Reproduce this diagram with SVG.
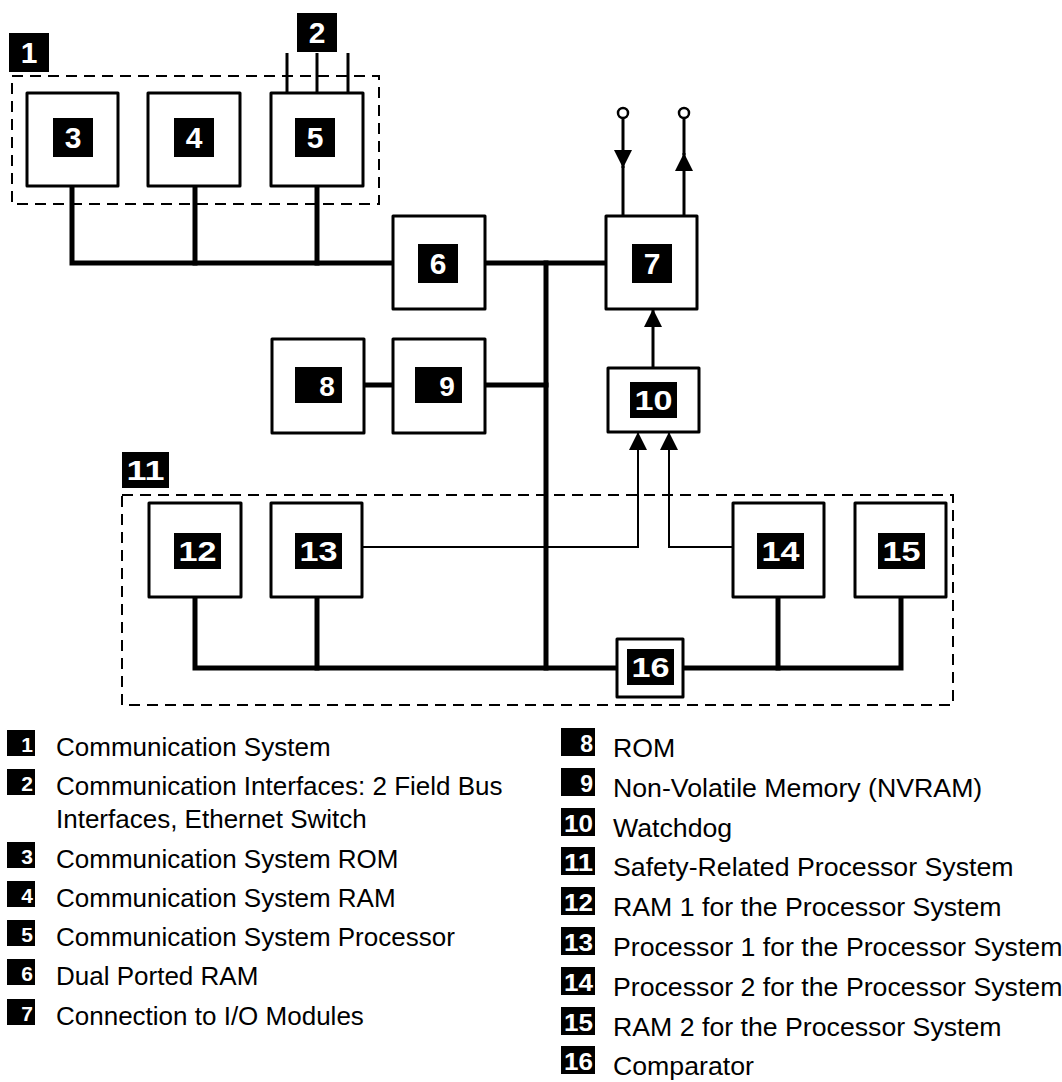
<svg xmlns="http://www.w3.org/2000/svg" width="1062" height="1082" viewBox="0 0 1062 1082">
<style>
.box{fill:#fff;stroke:#000;stroke-width:3;stroke-linejoin:round}
.grp{fill:none;stroke:#000;stroke-width:2;stroke-dasharray:11 7}
.lbl{fill:#000}
.num{fill:#fff;font-family:"Liberation Sans",Arial,sans-serif;font-weight:bold;text-anchor:middle}
.n1{font-size:30px}
.n2{font-size:27px}
.bus{fill:none;stroke:#000;stroke-width:5;stroke-linecap:square}
.thin{fill:none;stroke:#000;stroke-width:3}
.sig{fill:none;stroke:#000;stroke-width:2}
.leg{font-family:"Liberation Sans",Arial,sans-serif;font-size:26px;fill:#000}
.legr{font-family:"Liberation Sans",Arial,sans-serif;font-size:26.7px;fill:#000}
.lnum{fill:#fff;font-family:"Liberation Sans",Arial,sans-serif;font-weight:bold;text-anchor:end}
</style>
<defs>
<marker id="arr" viewBox="0 0 18 18" refX="18" refY="9" markerWidth="18" markerHeight="18" markerUnits="userSpaceOnUse" orient="auto">
<path d="M0,0 L18,9 L0,18 z" fill="#000"/>
</marker>
</defs>
<rect width="1062" height="1082" fill="#fff"/>

<g id="group1">
<rect class="grp" x="12" y="76" width="367" height="128"/>
<rect class="lbl" x="9" y="33" width="40" height="39"/>
<text class="num n1" x="29" y="63">1</text>
</g>
<g id="group11">
<rect class="grp" x="122" y="495" width="831" height="210"/>
<rect class="lbl" x="122" y="452" width="47" height="36"/>
<text class="num n2" x="145.5" y="480" textLength="38" lengthAdjust="spacingAndGlyphs">11</text>
</g>

<g id="connectors">
<path class="bus" d="M72,186 V263 H393"/>
<path class="bus" d="M195,186 V263"/>
<path class="bus" d="M317,186 V263"/>
<path class="bus" d="M485,263 H606"/>
<path class="bus" d="M546,263 V668"/>
<path class="bus" d="M485,385 H546"/>
<path class="bus" d="M364,385 H393"/>
<path class="bus" d="M195,597 V668 H617"/>
<path class="bus" d="M317,597 V668"/>
<path class="bus" d="M683,668 H901 V597"/>
<path class="bus" d="M778,597 V668"/>
<path class="thin" d="M287,53 V93"/>
<path class="thin" d="M317,53 V93"/>
<path class="thin" d="M348,53 V93"/>
<path class="thin" d="M623,118 V168" marker-end="url(#arr)"/>
<path class="thin" d="M623,166 V216"/>
<path class="thin" d="M684,216 V153" marker-end="url(#arr)"/>
<path class="thin" d="M684,155 V118"/>
<circle cx="623" cy="113" r="5" fill="#fff" stroke="#000" stroke-width="2.5"/>
<circle cx="684" cy="113" r="5" fill="#fff" stroke="#000" stroke-width="2.5"/>
<path class="thin" d="M653,368 V309" marker-end="url(#arr)"/>
<path class="sig" d="M362,547 H638 V432" marker-end="url(#arr)"/>
<path class="sig" d="M733,547 H669 V432" marker-end="url(#arr)"/>
</g>

<g id="label2">
<rect class="lbl" x="297" y="13" width="40" height="39"/>
<text class="num n1" x="317" y="43">2</text>
</g>
<g id="node3">
<rect class="box" x="27" y="93" width="91" height="93"/>
<rect class="lbl" x="53" y="118" width="40" height="39"/>
<text class="num n1" x="73" y="148">3</text>
</g>
<g id="node4">
<rect class="box" x="148" y="93" width="92" height="93"/>
<rect class="lbl" x="174" y="118" width="40" height="39"/>
<text class="num n1" x="194" y="148">4</text>
</g>
<g id="node5">
<rect class="box" x="271" y="93" width="92" height="93"/>
<rect class="lbl" x="295" y="118" width="40" height="39"/>
<text class="num n1" x="315" y="148">5</text>
</g>
<g id="node6">
<rect class="box" x="393" y="216" width="92" height="93"/>
<rect class="lbl" x="418" y="244" width="40" height="39"/>
<text class="num n1" x="438" y="274">6</text>
</g>
<g id="node7">
<rect class="box" x="606" y="216" width="91" height="93"/>
<rect class="lbl" x="632" y="244" width="40" height="39"/>
<text class="num n1" x="652" y="274">7</text>
</g>
<g id="node8">
<rect class="box" x="272" y="339" width="92" height="94"/>
<rect class="lbl" x="295" y="367" width="47" height="36"/>
<text class="num n1" x="327" y="396" style="font-size:28px">8</text>
</g>
<g id="node9">
<rect class="box" x="393" y="339" width="92" height="94"/>
<rect class="lbl" x="415" y="367" width="47" height="36"/>
<text class="num n1" x="447" y="396" style="font-size:28px">9</text>
</g>
<g id="node10">
<rect class="box" x="608" y="368" width="91" height="64"/>
<rect class="lbl" x="630" y="382" width="47" height="36"/>
<text class="num n2" x="653.5" y="410" textLength="38" lengthAdjust="spacingAndGlyphs">10</text>
</g>
<g id="node12">
<rect class="box" x="149" y="503" width="92" height="94"/>
<rect class="lbl" x="174" y="533" width="47" height="36"/>
<text class="num n2" x="197.5" y="561" textLength="38" lengthAdjust="spacingAndGlyphs">12</text>
</g>
<g id="node13">
<rect class="box" x="271" y="503" width="91" height="94"/>
<rect class="lbl" x="295" y="533" width="47" height="36"/>
<text class="num n2" x="318.5" y="561" textLength="38" lengthAdjust="spacingAndGlyphs">13</text>
</g>
<g id="node14">
<rect class="box" x="733" y="503" width="91" height="94"/>
<rect class="lbl" x="757" y="533" width="47" height="36"/>
<text class="num n2" x="780.5" y="561" textLength="38" lengthAdjust="spacingAndGlyphs">14</text>
</g>
<g id="node15">
<rect class="box" x="855" y="503" width="91" height="94"/>
<rect class="lbl" x="878" y="533" width="47" height="36"/>
<text class="num n2" x="901.5" y="561" textLength="38" lengthAdjust="spacingAndGlyphs">15</text>
</g>
<g id="node16">
<rect class="box" x="617" y="639" width="66" height="58"/>
<rect class="lbl" x="627" y="649" width="47" height="36"/>
<text class="num n2" x="650.5" y="677" textLength="38" lengthAdjust="spacingAndGlyphs">16</text>
</g>

<g id="legend">
<g style="font-size:21px">
<rect x="7" y="730" width="28" height="26"/><text class="lnum" x="33" y="752">1</text>
<rect x="7" y="769" width="28" height="26"/><text class="lnum" x="33" y="791">2</text>
<rect x="7" y="842" width="28" height="26"/><text class="lnum" x="33" y="864">3</text>
<rect x="7" y="881" width="28" height="26"/><text class="lnum" x="33" y="903">4</text>
<rect x="7" y="920" width="28" height="26"/><text class="lnum" x="33" y="942">5</text>
<rect x="7" y="959" width="28" height="26"/><text class="lnum" x="33" y="981">6</text>
<rect x="7" y="999" width="28" height="26"/><text class="lnum" x="33" y="1021">7</text>
</g>
<text class="leg" x="56" y="756">Communication System</text>
<text class="leg" x="56" y="795">Communication Interfaces: 2 Field Bus</text>
<text class="leg" x="56" y="828">Interfaces, Ethernet Switch</text>
<text class="leg" x="56" y="868">Communication System ROM</text>
<text class="leg" x="56" y="907">Communication System RAM</text>
<text class="leg" x="56" y="946">Communication System Processor</text>
<text class="leg" x="56" y="985">Dual Ported RAM</text>
<text class="leg" x="56" y="1025">Connection to I/O Modules</text>
<g style="font-size:23px">
<rect x="561" y="728" width="34" height="28"/><text class="lnum" x="593" y="752">8</text>
<rect x="561" y="768" width="34" height="28"/><text class="lnum" x="593" y="792">9</text>
<rect x="561" y="808" width="34" height="28"/><text class="lnum" x="593" y="832" textLength="29" lengthAdjust="spacingAndGlyphs">10</text>
<rect x="561" y="847" width="34" height="28"/><text class="lnum" x="593" y="871" textLength="29" lengthAdjust="spacingAndGlyphs">11</text>
<rect x="561" y="887" width="34" height="28"/><text class="lnum" x="593" y="911" textLength="29" lengthAdjust="spacingAndGlyphs">12</text>
<rect x="561" y="927" width="34" height="28"/><text class="lnum" x="593" y="951" textLength="29" lengthAdjust="spacingAndGlyphs">13</text>
<rect x="561" y="967" width="34" height="28"/><text class="lnum" x="593" y="991" textLength="29" lengthAdjust="spacingAndGlyphs">14</text>
<rect x="561" y="1007" width="34" height="28"/><text class="lnum" x="593" y="1031" textLength="29" lengthAdjust="spacingAndGlyphs">15</text>
<rect x="561" y="1046" width="34" height="28"/><text class="lnum" x="593" y="1070" textLength="29" lengthAdjust="spacingAndGlyphs">16</text>
</g>
<text class="legr" x="613" y="757">ROM</text>
<text class="legr" x="613" y="797">Non-Volatile Memory (NVRAM)</text>
<text class="legr" x="613" y="837">Watchdog</text>
<text class="legr" x="613" y="876">Safety-Related Processor System</text>
<text class="legr" x="613" y="916">RAM 1 for the Processor System</text>
<text class="legr" x="613" y="956">Processor 1 for the Processor System</text>
<text class="legr" x="613" y="996">Processor 2 for the Processor System</text>
<text class="legr" x="613" y="1036">RAM 2 for the Processor System</text>
<text class="legr" x="613" y="1075">Comparator</text>
</g>
</svg>
